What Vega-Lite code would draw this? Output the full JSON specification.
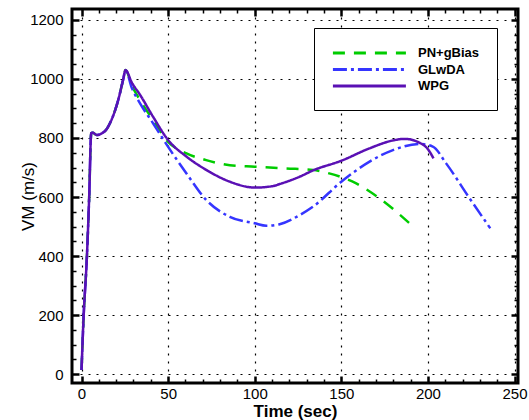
{
  "$schema": "https://vega.github.io/schema/vega-lite/v6.json",
  "width": 446,
  "height": 374,
  "autosize": {"type": "none"},
  "padding": {"left": 72, "top": 9, "right": 11, "bottom": 37},
  "background": "white",
  "config": {
    "view": {"stroke": "black", "strokeWidth": 3},
    "font": "Liberation Sans",
    "legend": {
      "orient": "none",
      "legendX": 242,
      "legendY": 19,
      "title": null,
      "strokeColor": "black",
      "fillColor": "white",
      "padding": 17,
      "rowPadding": 1.5,
      "labelFontSize": 13,
      "labelFontWeight": "bold",
      "labelColor": "black",
      "labelOffset": 71,
      "symbolType": "M-1,0H11",
      "symbolSize": 148,
      "symbolStrokeWidth": 3
    },
    "axis": {
      "domain": false,
      "labelOverlap": false,
      "labelColor": "black",
      "labelFontSize": 15,
      "tickColor": "black",
      "tickWidth": 2.5,
      "gridColor": "black",
      "gridDash": [2, 6],
      "gridWidth": 1.2,
      "titleColor": "black"
    }
  },
  "data": {
    "values": [
      {"t": 0, "v": 14, "s": "PN+gBias"},
      {"t": 1.2, "v": 194, "s": "PN+gBias"},
      {"t": 3.1, "v": 398, "s": "PN+gBias"},
      {"t": 4.4, "v": 596, "s": "PN+gBias"},
      {"t": 5.6, "v": 816, "s": "PN+gBias"},
      {"t": 6.4, "v": 818, "s": "PN+gBias"},
      {"t": 8.9, "v": 810, "s": "PN+gBias"},
      {"t": 11.8, "v": 816, "s": "PN+gBias"},
      {"t": 14.5, "v": 830, "s": "PN+gBias"},
      {"t": 16.4, "v": 850, "s": "PN+gBias"},
      {"t": 21.2, "v": 929, "s": "PN+gBias"},
      {"t": 24, "v": 997, "s": "PN+gBias"},
      {"t": 25.4, "v": 1030, "s": "PN+gBias"},
      {"t": 29, "v": 978, "s": "PN+gBias"},
      {"t": 33.7, "v": 929, "s": "PN+gBias"},
      {"t": 41.3, "v": 861, "s": "PN+gBias"},
      {"t": 50, "v": 787, "s": "PN+gBias"},
      {"t": 60.6, "v": 748, "s": "PN+gBias"},
      {"t": 72, "v": 725, "s": "PN+gBias"},
      {"t": 85.6, "v": 708, "s": "PN+gBias"},
      {"t": 100, "v": 703, "s": "PN+gBias"},
      {"t": 118, "v": 697, "s": "PN+gBias"},
      {"t": 133.6, "v": 692, "s": "PN+gBias"},
      {"t": 143, "v": 680, "s": "PN+gBias"},
      {"t": 158.6, "v": 646, "s": "PN+gBias"},
      {"t": 172, "v": 596, "s": "PN+gBias"},
      {"t": 189.4, "v": 511, "s": "PN+gBias"},

      {"t": 0, "v": 14, "s": "GLwDA"},
      {"t": 1.2, "v": 194, "s": "GLwDA"},
      {"t": 3.1, "v": 398, "s": "GLwDA"},
      {"t": 4.4, "v": 596, "s": "GLwDA"},
      {"t": 5.6, "v": 816, "s": "GLwDA"},
      {"t": 6.4, "v": 818, "s": "GLwDA"},
      {"t": 8.9, "v": 810, "s": "GLwDA"},
      {"t": 11.8, "v": 816, "s": "GLwDA"},
      {"t": 14.5, "v": 830, "s": "GLwDA"},
      {"t": 16.4, "v": 850, "s": "GLwDA"},
      {"t": 21.2, "v": 929, "s": "GLwDA"},
      {"t": 24, "v": 997, "s": "GLwDA"},
      {"t": 25.4, "v": 1030, "s": "GLwDA"},
      {"t": 29, "v": 970, "s": "GLwDA"},
      {"t": 33.7, "v": 918, "s": "GLwDA"},
      {"t": 41.3, "v": 850, "s": "GLwDA"},
      {"t": 50, "v": 770, "s": "GLwDA"},
      {"t": 60.6, "v": 680, "s": "GLwDA"},
      {"t": 72, "v": 590, "s": "GLwDA"},
      {"t": 85.6, "v": 533, "s": "GLwDA"},
      {"t": 100, "v": 511, "s": "GLwDA"},
      {"t": 106.7, "v": 503, "s": "GLwDA"},
      {"t": 114.4, "v": 508, "s": "GLwDA"},
      {"t": 126, "v": 539, "s": "GLwDA"},
      {"t": 133.6, "v": 567, "s": "GLwDA"},
      {"t": 150, "v": 652, "s": "GLwDA"},
      {"t": 166.3, "v": 720, "s": "GLwDA"},
      {"t": 179.8, "v": 759, "s": "GLwDA"},
      {"t": 195.1, "v": 780, "s": "GLwDA"},
      {"t": 202.8, "v": 771, "s": "GLwDA"},
      {"t": 210.5, "v": 714, "s": "GLwDA"},
      {"t": 224, "v": 596, "s": "GLwDA"},
      {"t": 236, "v": 494, "s": "GLwDA"},

      {"t": 0, "v": 14, "s": "WPG"},
      {"t": 1.2, "v": 194, "s": "WPG"},
      {"t": 3.1, "v": 398, "s": "WPG"},
      {"t": 4.4, "v": 596, "s": "WPG"},
      {"t": 5.6, "v": 816, "s": "WPG"},
      {"t": 6.4, "v": 818, "s": "WPG"},
      {"t": 8.9, "v": 810, "s": "WPG"},
      {"t": 11.8, "v": 816, "s": "WPG"},
      {"t": 14.5, "v": 830, "s": "WPG"},
      {"t": 16.4, "v": 850, "s": "WPG"},
      {"t": 21.2, "v": 929, "s": "WPG"},
      {"t": 24, "v": 997, "s": "WPG"},
      {"t": 25.4, "v": 1030, "s": "WPG"},
      {"t": 29, "v": 988, "s": "WPG"},
      {"t": 33.7, "v": 947, "s": "WPG"},
      {"t": 41.3, "v": 872, "s": "WPG"},
      {"t": 50, "v": 793, "s": "WPG"},
      {"t": 60.6, "v": 737, "s": "WPG"},
      {"t": 72, "v": 692, "s": "WPG"},
      {"t": 85.6, "v": 652, "s": "WPG"},
      {"t": 100, "v": 632, "s": "WPG"},
      {"t": 110.5, "v": 637, "s": "WPG"},
      {"t": 114.4, "v": 644, "s": "WPG"},
      {"t": 126, "v": 669, "s": "WPG"},
      {"t": 133.6, "v": 690, "s": "WPG"},
      {"t": 150, "v": 723, "s": "WPG"},
      {"t": 166.3, "v": 765, "s": "WPG"},
      {"t": 180, "v": 792, "s": "WPG"},
      {"t": 186.5, "v": 797, "s": "WPG"},
      {"t": 195.1, "v": 784, "s": "WPG"},
      {"t": 200, "v": 762, "s": "WPG"},
      {"t": 203.2, "v": 731, "s": "WPG"}
    ]
  },
  "layer": [
    {
      "mark": {"type": "line", "strokeWidth": 2.5, "clip": true, "interpolate": "monotone"},
      "encoding": {
        "x": {
          "field": "t",
          "type": "quantitative",
          "scale": {"domain": [-5.5, 252], "nice": false, "zero": false},
          "axis": {
            "orient": "bottom",
            "values": [0, 10, 20, 30, 40, 50, 60, 70, 80, 90, 100, 110, 120, 130, 140, 150, 160, 170, 180, 190, 200, 210, 220, 230, 240, 250],
            "labelExpr": "datum.value % 50 === 0 ? datum.label : ''",
            "format": "d",
            "title": "Time (sec)",
            "titleFontSize": 17,
            "titleFontWeight": "bold",
            "titlePadding": -1,
            "labelPadding": 10,
            "tickSize": {"condition": {"test": "datum.value % 50 === 0", "value": -7}, "value": -4},
            "tickWidth": {"condition": {"test": "datum.value % 50 === 0", "value": 2.5}, "value": 1.5},
            "grid": true,
            "gridOpacity": {"condition": {"test": "datum.value % 50 === 0", "value": 1}, "value": 0}
          }
        },
        "y": {
          "field": "v",
          "type": "quantitative",
          "scale": {"domain": [-30, 1237], "nice": false, "zero": false},
          "axis": {
            "orient": "left",
            "values": [0, 50, 100, 150, 200, 250, 300, 350, 400, 450, 500, 550, 600, 650, 700, 750, 800, 850, 900, 950, 1000, 1050, 1100, 1150, 1200],
            "labelExpr": "datum.value % 200 === 0 ? datum.label : ''",
            "format": "d",
            "title": "VM (m/s)",
            "titleFontSize": 17,
            "titleFontWeight": "normal",
            "titlePadding": -8,
            "labelPadding": 16,
            "tickSize": {"condition": {"test": "datum.value % 200 === 0", "value": -7}, "value": -4},
            "tickWidth": {"condition": {"test": "datum.value % 200 === 0", "value": 2.5}, "value": 1.5},
            "grid": true,
            "gridOpacity": {"condition": {"test": "datum.value % 200 === 0", "value": 1}, "value": 0}
          }
        },
        "color": {
          "field": "s",
          "type": "nominal",
          "scale": {"domain": ["PN+gBias", "GLwDA", "WPG"], "range": ["#00cc00", "#3535ff", "#5a10b4"]}
        },
        "strokeDash": {
          "field": "s",
          "type": "nominal",
          "scale": {"domain": ["PN+gBias", "GLwDA", "WPG"], "range": [[12, 9], [14, 4, 3, 4], [1, 0]]}
        }
      }
    },
    {
      "mark": {"type": "line", "opacity": 0},
      "encoding": {
        "x": {
          "field": "t",
          "type": "quantitative",
          "scale": {"domain": [-5.5, 252], "nice": false, "zero": false},
          "axis": {
            "orient": "top",
            "values": [0, 10, 20, 30, 40, 50, 60, 70, 80, 90, 100, 110, 120, 130, 140, 150, 160, 170, 180, 190, 200, 210, 220, 230, 240, 250],
            "labels": false,
            "title": null,
            "grid": false,
            "tickSize": {"condition": {"test": "datum.value % 50 === 0", "value": -7}, "value": -4},
            "tickWidth": {"condition": {"test": "datum.value % 50 === 0", "value": 2.5}, "value": 1.5}
          }
        },
        "y": {
          "field": "v",
          "type": "quantitative",
          "scale": {"domain": [-30, 1237], "nice": false, "zero": false},
          "axis": {
            "orient": "right",
            "values": [0, 50, 100, 150, 200, 250, 300, 350, 400, 450, 500, 550, 600, 650, 700, 750, 800, 850, 900, 950, 1000, 1050, 1100, 1150, 1200],
            "labels": false,
            "title": null,
            "grid": false,
            "tickSize": {"condition": {"test": "datum.value % 200 === 0", "value": -7}, "value": -4},
            "tickWidth": {"condition": {"test": "datum.value % 200 === 0", "value": 2.5}, "value": 1.5}
          }
        }
      }
    }
  ],
  "resolve": {"axis": {"x": "independent", "y": "independent"}}
}
